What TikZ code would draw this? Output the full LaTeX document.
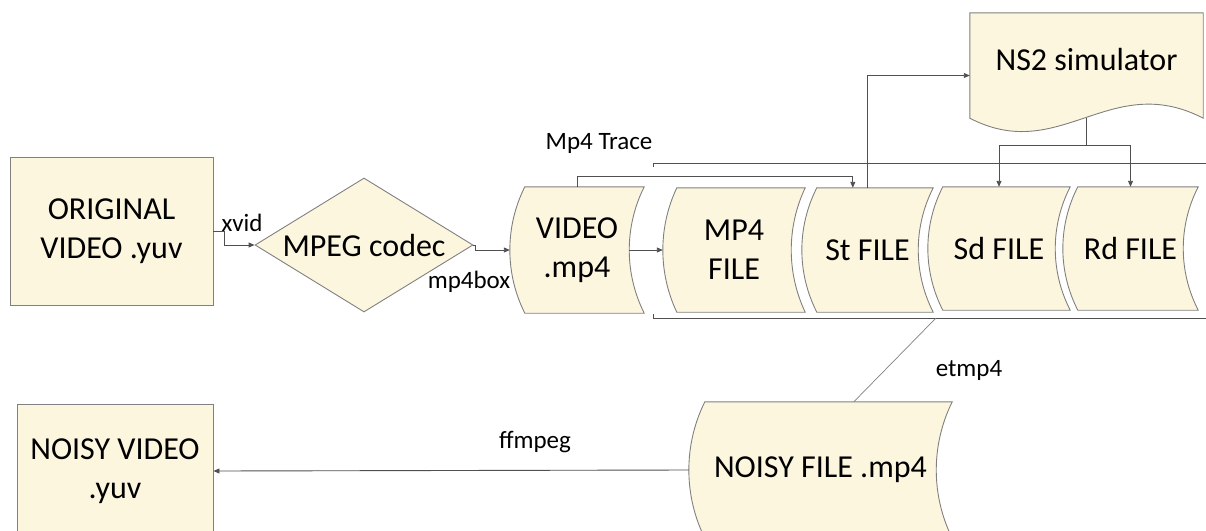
\documentclass[tikz,border=0pt]{standalone}
\usepackage{fontspec}
\setmainfont{Carlito}
\usetikzlibrary{shapes.geometric,arrows.meta,calc}

\definecolor{boxfill}{RGB}{253,246,223}
\definecolor{boxedge}{RGB}{128,128,128}
\definecolor{wire}{RGB}{80,80,80}

\pgfdeclarelayer{background}
\pgfsetlayers{background,main}

\tikzset{
  bigtext/.style={font=\fontsize{32}{39}\selectfont, align=center},
  smalltext/.style={font=\fontsize{25}{30}\selectfont, inner sep=0pt},
  procbox/.style={bigtext, draw=boxedge, fill=boxfill, line width=0.9pt, inner sep=0pt},
  decision/.style={bigtext, diamond, draw=boxedge, fill=boxfill, line width=0.9pt,
    inner sep=0pt, aspect=1.63},
  holder/.style={bigtext, rectangle, draw=none, inner sep=0pt},
  outline/.style={draw=boxedge, fill=boxfill, line width=0.9pt},
  wireline/.style={draw=wire, line width=0.9pt},
  flow/.style={wireline, -{Triangle[length=6pt,width=5pt]}},
}

% Stored-data outline behind a holder node: convex left side, concave right side
\newcommand\storedoutline[2][15]{%
  \begin{pgfonlayer}{background}
  \path[outline]
    ($(#2.north west)+(#1,0)$) -- (#2.north east)
    .. controls ($(#2.north east)!0.315!(#2.south east)+(-1.33*#1,0)$)
       and ($(#2.north east)!0.685!(#2.south east)+(-1.33*#1,0)$) .. (#2.south east)
    -- ($(#2.south west)+(#1,0)$)
    .. controls ($(#2.north west)!0.685!(#2.south west)+(-0.33*#1,0)$)
       and ($(#2.north west)!0.315!(#2.south west)+(-0.33*#1,0)$) .. cycle;
  \end{pgfonlayer}
}

\begin{document}
\begin{tikzpicture}[x=1pt,y=-1pt]
\useasboundingbox (0,0) rectangle (1206,530);
\clip (0,0) rectangle (1206,530);

% stored-data shapes
\node[holder, minimum width=134pt, minimum height=126pt] (video) at (577,250) {VIDEO\\.mp4};
\node[holder, minimum width=142pt, minimum height=124pt] (mp4) at (734,250) {MP4\\FILE};
\node[holder, minimum width=131pt, minimum height=124pt] (st) at (867.5,250) {St FILE};
\node[holder, minimum width=142pt, minimum height=123pt] (sd) at (999,248.5) {Sd FILE};
\node[holder, minimum width=135pt, minimum height=123pt] (rd) at (1130.5,248.5) {Rd FILE};
\node[holder, minimum width=263pt, minimum height=136pt] (noisy) at (820.5,470) {NOISY FILE .mp4};

\storedoutline{video}
\storedoutline[14]{mp4}
\storedoutline{st}
\storedoutline{sd}
\storedoutline{rd}
\storedoutline[16]{noisy}

% document shape of the simulator
\node[holder, minimum width=233pt, minimum height=105pt, text depth=12pt] (ns) at (1086.5,65.5) {NS2 simulator};
\begin{pgfonlayer}{background}
\path[outline] (ns.south west) -- (ns.north west) -- (ns.north east) -- (ns.south east)
  .. controls (1110,70) and (1060,165) .. (ns.south west) -- cycle;
\end{pgfonlayer}

% process boxes and decision
\node[procbox, minimum width=203pt, minimum height=148pt] (orig) at (111.5,231) {ORIGINAL\\VIDEO .yuv};
\node[procbox, minimum width=196pt, minimum height=134pt] (nvid) at (115,471) {NOISY VIDEO\\.yuv};
\node[decision, minimum width=218pt, minimum height=134pt] (codec) at (364,245) {MPEG codec};

% trace brackets
\coordinate (tb) at (653,163);
\coordinate (bb) at (653,318);
\draw[wireline] ($(tb)+(0,4)$) -- (tb) -- (1206,163);
\draw[wireline] ($(bb)+(0,-4)$) -- (bb) -- (1206,318);
\coordinate (etap) at (936,318);

% connectors
\draw[flow] (orig.east) -- ++(11,0) |- (codec.west);
\draw[flow] (codec.east) -- ++(2,0) |- (video.west);
\draw[flow] ($(video.east)+(-15,0)$) -- (mp4.west);
\draw[flow] (video.north) -- ++(0,-10) -| ($(st.north west)+(51,0)$);
\draw[flow] (st.north) |- ($(ns.west)+(0,10)$);
\draw[wireline] (ns.south) -- ++(0,27) coordinate (fork);
\draw[flow] (fork) -| (sd.north);
\draw[flow] (fork) -| (rd.north);
\draw[draw=boxedge, line width=0.7pt] (etap) -- ($(noisy.north west)+(165,0)$);
\draw[flow] (noisy.west) -- (nvid.east);

% labels
\node[smalltext] (lxvid) at (242,223) {xvid};
\node[smalltext] (lbox) at (469,282) {mp4box};
\node[smalltext] (ltrace) at (599,143) {Mp4 Trace};
\node[smalltext] (letmp) at (969,370) {etmp4};
\node[smalltext] (lff) at (535,442) {ffmpeg};
\end{tikzpicture}
\end{document}
